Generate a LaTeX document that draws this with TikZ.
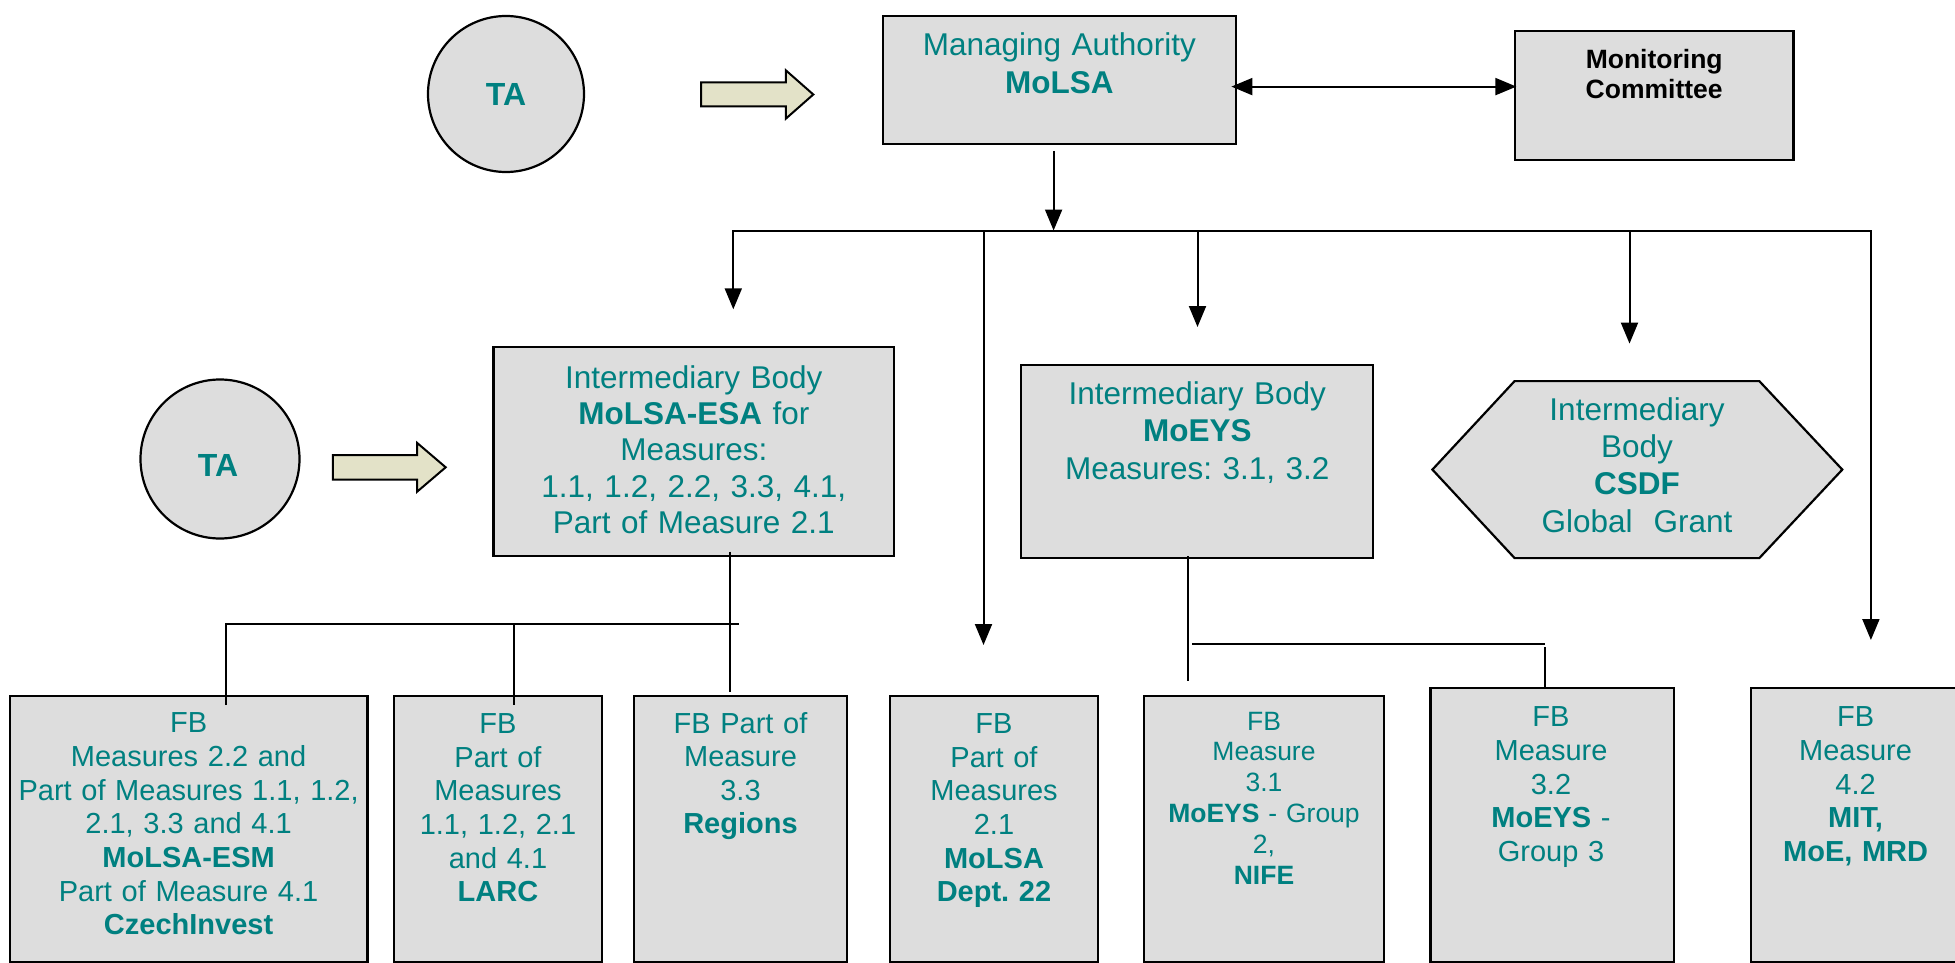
\documentclass[tikz,border=0pt]{standalone}
\usepackage{fontspec}
\setmainfont{Liberation Sans}
\usetikzlibrary{arrows.meta}
\definecolor{tealtext}{RGB}{0,128,128}
\definecolor{boxfill}{RGB}{221,221,221}
\definecolor{arrowfill}{RGB}{227,226,200}
\tikzset{
  boxline/.style={draw=black, line width=2.2pt, fill=boxfill, line join=miter},
  box/.style={boxline, rectangle, inner sep=0pt, outer sep=0pt},
  tacircle/.style={draw=black, line width=2.2pt, fill=boxfill, circle, inner sep=0pt},
  conn/.style={draw=black, line width=2pt},
  arr/.style={conn, -{Triangle[length=21pt,width=17pt]}},
  darr/.style={conn, {Triangle[length=21pt,width=17pt]}-{Triangle[length=21pt,width=17pt]}},
  blk/.style={draw=black, line width=2pt, fill=arrowfill, line join=miter},
  txt/.style={anchor=base, align=center, inner sep=0pt, text=tealtext},
  fs/.style 2 args={font=\fontsize{#1}{#2}\selectfont\frenchspacing},
  fsb/.style 2 args={font=\fontsize{#1}{#2}\selectfont\frenchspacing\bfseries},
}
\newcommand{\mkbox}[5]{\node[box, minimum width={(#4)-(#2)}, minimum height={(#5)-(#3)}] (#1) at ({((#2)+(#4))/2},{((#3)+(#5))/2}) {};}
\begin{document}
\begin{tikzpicture}[x=1pt,y=-1pt]
\useasboundingbox (0,0) rectangle (1955,963);

% ---------- top row ----------
\node[tacircle, minimum size=156pt] (ta1) at (506,94) {};
\node[txt, fsb={32}{38}] (ta1t) at (506,106) {TA};
\draw[blk] (701,82.5) -- (785.8,82.5) -- (785.8,70.3) -- (813.3,94.5) -- (785.8,118.7) -- (785.8,106.5) -- (701,106.5) -- cycle;

\mkbox{ma}{882.7}{15.7}{1236}{144.3}
\node[txt, fs={31.5}{38.3}, text width=340pt] (mat) at (1059.4,55.7) {Managing Authority\\\textbf{MoLSA}};

\mkbox{mc}{1514.6}{31.2}{1793.5}{160.3}
\node[anchor=base, align=center, inner sep=0pt, text=black, fsb={26.5}{30}, text width=260pt] (mct) at (1654.2,68.7) {Monitoring\\Committee};

\coordinate (dy) at (1375,86.6);
\draw[darr] ([xshift=-4.6pt]ma.east |- dy) -- ([xshift=1.8pt]mc.west |- dy);

% ---------- middle row ----------
\node[tacircle, minimum size=159pt] (ta2) at (220,459) {};
\node[txt, fsb={32}{38}] (ta2t) at (218,476.7) {TA};
\draw[blk] (332.8,455) -- (417,455) -- (417,442.8) -- (445.7,467.3) -- (417,491.8) -- (417,479.6) -- (332.8,479.6) -- cycle;

\mkbox{ib1}{493.5}{346.7}{894}{555.7}
\node[txt, fs={31.5}{36.4}, text width=390pt] (ib1t) at (693.8,388) {Intermediary Body\\\textbf{MoLSA-ESA} for\\Measures:\\1.1, 1.2, 2.2, 3.3, 4.1,\\Part of Measure 2.1};

\mkbox{ib2}{1021.3}{365.3}{1373.3}{558.1}
\node[txt, fs={31.5}{37.1}, text width=340pt] (ib2t) at (1197.3,404.8) {Intermediary Body\\\textbf{MoEYS}\\Measures: 3.1, 3.2};

\node[inner sep=0pt, outer sep=0pt, minimum width=409.9pt, minimum height=177pt] (hexbb) at (1637.35,469.6) {};
\draw[boxline] ([xshift=82.2pt]hexbb.north west) -- ([xshift=-83pt]hexbb.north east) -- (hexbb.east) -- ([xshift=-83pt]hexbb.south east) -- ([xshift=82.2pt]hexbb.south west) -- (hexbb.west) -- cycle;
\node[txt, fs={31.5}{37.1}, text width=300pt] (hext) at (1637,420.7) {Intermediary\\Body\\\textbf{CSDF}\\Global\ \ Grant};

% ---------- bottom row ----------
\mkbox{fb1}{9.8}{696.3}{367.4}{962}
\mkbox{fb2}{393.8}{696.3}{602.2}{962}
\mkbox{fb3}{634.3}{696.3}{846.7}{962}
\mkbox{fb4}{890}{696}{1098}{962}
\mkbox{fb5}{1144}{696}{1384}{962}
\mkbox{fb6}{1430.5}{688.3}{1674}{962}
\mkbox{fb7}{1750.7}{688.3}{1962}{962}

\node[txt, fs={29}{33.7}, text width=350pt] (fb1t) at (188.6,732.7) {FB\\Measures 2.2 and\\Part of Measures 1.1, 1.2,\\2.1, 3.3 and 4.1\\\textbf{MoLSA-ESM}\\Part of Measure 4.1\\\textbf{CzechInvest}};
\node[txt, fs={29}{33.7}, text width=200pt] (fb2t) at (498,733.3) {FB\\Part of\\Measures\\1.1, 1.2, 2.1\\and 4.1\\\textbf{LARC}};
\node[txt, fs={29}{33.4}, text width=205pt] (fb3t) at (740.5,733.3) {FB Part of\\Measure\\3.3\\\textbf{Regions}};
\node[txt, fs={29}{33.7}, text width=200pt] (fb4t) at (994,733.3) {FB\\Part of\\Measures\\2.1\\\textbf{MoLSA}\\\textbf{Dept. 22}};
\node[txt, fs={26.5}{30.8}, text width=235pt] (fb5t) at (1264,730) {FB\\Measure\\3.1\\\textbf{MoEYS} - Group\\2,\\\textbf{NIFE}};
\node[txt, fs={29}{33.7}, text width=235pt] (fb6t) at (1551,726.7) {FB\\Measure\\3.2\\\textbf{MoEYS} -\\Group 3};
\node[txt, fs={29}{33.7}, text width=200pt] (fb7t) at (1855.6,726.7) {FB\\Measure\\4.2\\\textbf{MIT,}\\\textbf{MoE, MRD}};

% ---------- connectors from MA ----------
\coordinate (busL) at (733.3,230.5);
\coordinate (busR) at (1870.9,230.5);
\coordinate (mdrop) at (1053.6,230.5);
\coordinate (d2) at (983.5,230.5);
\coordinate (d3) at (1197.5,230.5);
\coordinate (d4) at (1629.5,230.5);
\draw[arr] ([yshift=-6.5pt]ma.south -| mdrop) -- (mdrop);
\draw[darr] ([yshift=37.4pt]ib1.north -| busL) -- (busL) -- (busR) -- ([yshift=48.3pt]fb7.north -| busR);
\draw[arr] (d2) -- ([yshift=51pt]fb4.north -| d2);
\draw[arr] (d3) -- ([yshift=38.3pt]ib2.north -| d3);
\draw[arr] (d4) -- ([yshift=37.5pt]hexbb.north -| d4);

% ---------- connectors from IB1 ----------
\coordinate (j1) at (730.2,624.3);
\coordinate (j1L) at (225.6,624.3);
\coordinate (j1M) at (513.8,624.3);
\coordinate (j1R) at (738.8,624.3);
\draw[conn] ([yshift=4pt]ib1.south -| j1) -- ([yshift=4pt]fb3.north -| j1);
\draw[conn] ([yshift=-8.7pt]fb1.north -| j1L) -- (j1L) -- (j1R);
\draw[conn] (j1M) -- ([yshift=-8.7pt]fb2.north -| j1M);

% ---------- connectors from IB2 ----------
\coordinate (j2) at (1187.5,644.3);
\coordinate (j2L) at (1192,644.3);
\coordinate (j2R) at (1545,644.3);
\draw[conn] ([yshift=2pt]ib2.south -| j2) -- ([yshift=15.3pt]fb5.north -| j2);
\draw[conn] (j2L) -- (j2R);
\draw[conn] ([yshift=-3pt]j2R) -- ([yshift=1.6pt]fb6.north -| j2R);
\end{tikzpicture}
\end{document}
